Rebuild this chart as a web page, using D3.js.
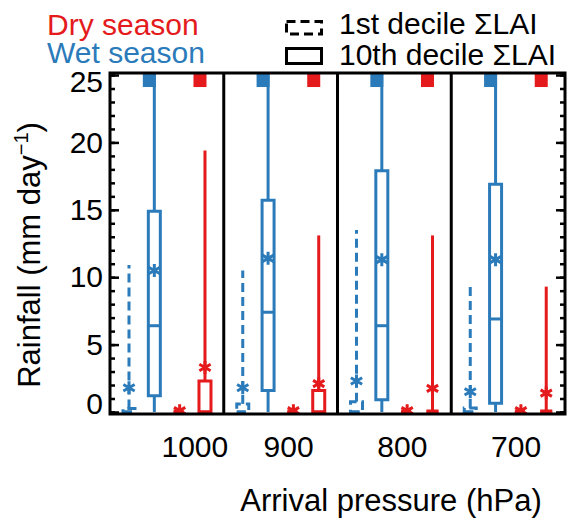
<!DOCTYPE html>
<html>
<head>
<meta charset="utf-8">
<script src="https://cdn.jsdelivr.net/npm/d3@7"></script>
<style>
  body { margin: 0; background: #fff; }
  svg { display: block; }
  text { font-family: "Liberation Sans", Arial, sans-serif; }
</style>
</head>
<body>
<div id="chart"></div>
<script>
const panels = ["1000", "900", "800", "700"];
const seriesKeys = ["wet1", "wet10", "dry1", "dry10"];
const yTicks = [0, 5, 10, 15, 20, 25];

// wet season, 1st decile sum LAI
const wet1Low = [0, 0, 0, 0];
const wet1Q1 = [0, 0, 0, 0];
const wet1Med = [0, 0, 0, 0];
const wet1Q3 = [0.25, 0.6, 0.75, 0.3];
const wet1High = [10.9, 10.5, 13.5, 9.4];
const wet1Mean = [1.8, 1.8, 2.3, 1.5];

// wet season, 10th decile sum LAI
const wet10Low = [0, 0, 0, 0];
const wet10Q1 = [1.2, 1.6, 0.9, 0.65];
const wet10Med = [6.4, 7.4, 6.4, 6.9];
const wet10Q3 = [14.9, 15.7, 17.9, 16.9];
const wet10High = [26, 26, 26, 26];
const wet10Mean = [10.5, 11.4, 11.3, 11.3];

// dry season, 1st decile sum LAI
const dry1Low = [0, 0, 0, 0];
const dry1Q1 = [0, 0, 0, 0];
const dry1Med = [0, 0, 0, 0];
const dry1Q3 = [0, 0, 0, 0];
const dry1High = [0, 0, 0, 0];
const dry1Mean = [0.1, 0.1, 0.1, 0.1];

// dry season, 10th decile sum LAI
const dry10Low = [0, 0, 0, 0];
const dry10Q1 = [0, 0, 0, 0];
const dry10Med = [0, 0, 0, 0];
const dry10Q3 = [2.3, 1.6, 0, 0];
const dry10High = [19.4, 13.1, 13.1, 9.3];
const dry10Mean = [3.3, 2.1, 1.75, 1.4];

const blue = "#2b7bba";
const red = "#e41a1c";

const series = [
  { key: "wet1", color: blue, dashed: true, marker: false,
    low: wet1Low, q1: wet1Q1, med: wet1Med, q3: wet1Q3, high: wet1High, mean: wet1Mean },
  { key: "wet10", color: blue, dashed: false, marker: true,
    low: wet10Low, q1: wet10Q1, med: wet10Med, q3: wet10Q3, high: wet10High, mean: wet10Mean },
  { key: "dry1", color: red, dashed: true, marker: false,
    low: dry1Low, q1: dry1Q1, med: dry1Med, q3: dry1Q3, high: dry1High, mean: dry1Mean },
  { key: "dry10", color: red, dashed: false, marker: true,
    low: dry10Low, q1: dry10Q1, med: dry10Med, q3: dry10Q3, high: dry10High, mean: dry10Mean },
];

const width = 569, height = 521;
const mLeft = 110, mRight = 565, mTop = 73, mBottom = 414;
const dash = "9,5";

const svg = d3.select("#chart").append("svg")
  .attr("width", width)
  .attr("height", height);

const x = d3.scaleBand().domain(panels).range([mLeft, mRight]);
const bw = x.bandwidth();
const xInner = d3.scalePoint().domain(seriesKeys).range([bw * 0.167, bw * 0.835]);
const y = d3.scaleLinear().domain([-0.15, 25.15]).range([mBottom, mTop]);

svg.append("clipPath").attr("id", "plot-clip")
  .append("rect")
  .attr("x", mLeft).attr("y", mTop)
  .attr("width", mRight - mLeft).attr("height", mBottom - mTop);

const marks = svg.append("g").attr("clip-path", "url(#plot-clip)");

// boxes
const boxW = 12;
const rows = [];
panels.forEach((p, i) => {
  series.forEach((s) => {
    rows.push({
      cx: x(p) + xInner(s.key),
      s,
      low: s.low[i], q1: s.q1[i], med: s.med[i], q3: s.q3[i], high: s.high[i], mean: s.mean[i],
    });
  });
});

rows.forEach((d) => {
  const g = marks.append("g")
    .attr("stroke", d.s.color)
    .attr("fill", "none")
    .attr("stroke-width", 3)
    .attr("stroke-dasharray", d.s.dashed ? dash : null);

  if (d.q1 > d.low) {
    g.append("line")
      .attr("x1", d.cx).attr("x2", d.cx)
      .attr("y1", y(d.low)).attr("y2", y(d.q1));
  }
  if (d.high > d.q3) {
    g.append("line")
      .attr("x1", d.cx).attr("x2", d.cx)
      .attr("y1", y(d.q3)).attr("y2", y(d.high));
  }
  const x0 = d.cx - boxW / 2, x1 = d.cx + boxW / 2;
  const flat = d.q3 === d.q1;
  g.append("path")
    .attr("fill", "#fff")
    .attr("stroke-width", flat ? 5 : 3)
    .attr("d", `M${x0},${y(d.q1)}H${x1}V${y(d.q3)}H${x0}Z`);
  g.append("path")
    .attr("d", `M${x0},${y(d.med)}H${x1}`);

  // mean asterisk
  const r = 6.5, my = y(d.mean);
  const a = r * 0.87, b = r * 0.5;
  marks.append("path")
    .attr("stroke", d.s.color)
    .attr("stroke-width", 3)
    .attr("fill", "none")
    .attr("d",
      `M${d.cx},${my - r}V${my + r}` +
      `M${d.cx - a},${my - b}L${d.cx + a},${my + b}` +
      `M${d.cx - a},${my + b}L${d.cx + a},${my - b}`);

  if (d.s.marker) {
    marks.append("rect")
      .attr("x", d.cx - 5 - 6.5)
      .attr("y", y(25) - 1)
      .attr("width", 13)
      .attr("height", 13)
      .attr("fill", d.s.color);
  }
});

// panel dividers and frame
svg.append("g")
  .selectAll("line")
  .data(panels.slice(1))
  .join("line")
  .attr("x1", (d) => x(d)).attr("x2", (d) => x(d))
  .attr("y1", mTop).attr("y2", mBottom)
  .attr("stroke", "#000")
  .attr("stroke-width", 3);

svg.append("rect")
  .attr("x", mLeft).attr("y", mTop)
  .attr("width", mRight - mLeft).attr("height", mBottom - mTop)
  .attr("fill", "none")
  .attr("stroke", "#000")
  .attr("stroke-width", 3);

// y ticks, inside on both sides
function ticks(axis, xPos) {
  const g = svg.append("g").attr("transform", `translate(${xPos},0)`).call(axis);
  g.select(".domain").remove();
  g.selectAll("line").attr("stroke-width", 2.5);
  g.selectAll("text").remove();
}
ticks(d3.axisRight(y).tickValues(d3.range(0, 26)).tickSize(5), mLeft);
ticks(d3.axisRight(y).tickValues(yTicks).tickSize(9), mLeft);
ticks(d3.axisLeft(y).tickValues(d3.range(0, 26)).tickSize(5), mRight);
ticks(d3.axisLeft(y).tickValues(yTicks).tickSize(9), mRight);

const yLab = svg.append("g")
  .attr("transform", `translate(${mLeft},0)`)
  .call(d3.axisLeft(y).tickValues(yTicks).tickSize(0).tickPadding(7));
yLab.select(".domain").remove();
yLab.selectAll("text")
  .attr("font-size", 30)
  .attr("fill", "#000")
  .attr("font-family", "Liberation Sans, Arial, sans-serif")
  .attr("dy", (d) => (d === 0 ? "0.05em" : d === 25 ? "0.55em" : "0.32em"));

// x labels
const labelShift = { "1000": 28, "900": 8, "800": 8, "700": 8 };
svg.append("g")
  .selectAll("text")
  .data(panels)
  .join("text")
  .attr("x", (d) => x(d) + bw / 2 + labelShift[d])
  .attr("y", 457)
  .attr("text-anchor", "middle")
  .attr("font-size", 30)
  .text((d) => d);

svg.append("text")
  .attr("x", 391)
  .attr("y", 511)
  .attr("text-anchor", "middle")
  .attr("font-size", 31)
  .text("Arrival pressure (hPa)");

const yTitle = svg.append("text")
  .attr("transform", "translate(40,255) rotate(-90)")
  .attr("text-anchor", "middle")
  .attr("font-size", 31);
yTitle.append("tspan").text("Rainfall (mm day");
yTitle.append("tspan").attr("font-size", 20).attr("dy", -12).text("\u22121");
yTitle.append("tspan").attr("dy", 12).text(")");

// legend
svg.append("text").attr("x", 47).attr("y", 34.5).attr("font-size", 30)
  .attr("fill", red).text("Dry season");
svg.append("text").attr("x", 47).attr("y", 62.5).attr("font-size", 30)
  .attr("fill", blue).text("Wet season");

svg.append("rect")
  .attr("x", 286.5).attr("y", 21.5).attr("width", 35).attr("height", 12.5)
  .attr("fill", "none").attr("stroke", "#000").attr("stroke-width", 3)
  .attr("stroke-dasharray", dash);
svg.append("rect")
  .attr("x", 286.5).attr("y", 48.5).attr("width", 35).attr("height", 15)
  .attr("fill", "none").attr("stroke", "#000").attr("stroke-width", 3);

svg.append("text").attr("x", 339).attr("y", 33.5).attr("font-size", 30)
  .text("1st decile \u03a3LAI");
svg.append("text").attr("x", 339).attr("y", 64.5).attr("font-size", 30)
  .text("10th decile \u03a3LAI");
</script>
</body>
</html>
